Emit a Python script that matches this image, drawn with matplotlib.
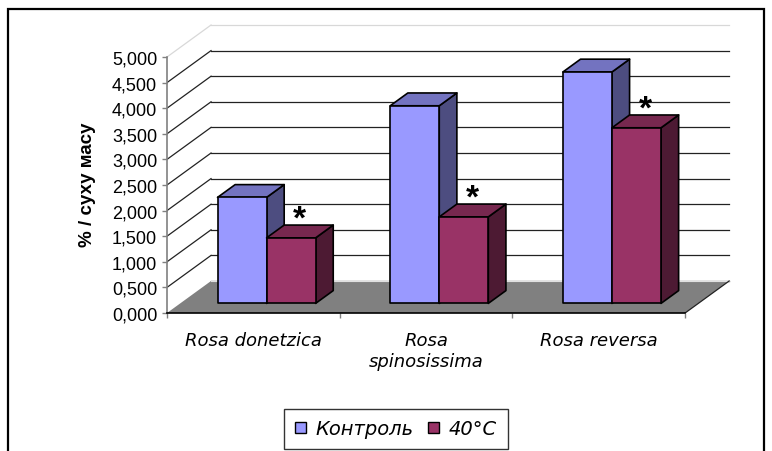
import matplotlib
matplotlib.use("Agg")
import matplotlib.pyplot as plt
from matplotlib.patches import Polygon, Patch, Rectangle

# chart data
species = ["Rosa donetzica", "Rosa\nspinosissima", "Rosa reversa"]
series_names = ["Контроль", "40°C"]
control = [2.07, 3.86, 4.52]
heat = [1.28, 1.69, 3.43]
significant = [True, True, True]
y_ticks = [0, 0.5, 1.0, 1.5, 2.0, 2.5, 3.0, 3.5, 4.0, 4.5, 5.0]

# pseudo-3D geometry (data units: x in categories, y in values)
DX, DY = 0.255, 0.625      # full depth of the plot box
BAR_W = 0.284
BAR_Z0, BAR_Z1 = 0.3, 0.7  # bar depth range as a fraction of full depth
YMAX = 5.0

front_colors = ["#9999FF", "#993366"]
top_colors = ["#7373C0", "#77284F"]
side_colors = ["#4D4D80", "#4D1A33"]

plt.rcParams['font.family'] = ['Liberation Sans', 'DejaVu Sans']
wide_italic = {"family": ["DejaVu Sans"], "style": "italic"}

W, H = 772, 452
fig = plt.figure(figsize=(W / 100, H / 100), dpi=100)
x0_px, y0_px = 167, 314
cat_px, val_px = 172.7, 51.2
xlim = (0, 3.35)
ylim = (0, 5.8)
ax = fig.add_axes([x0_px / W, (H - y0_px) / H,
                   cat_px * xlim[1] / W, val_px * ylim[1] / H])
ax.set_xlim(*xlim)
ax.set_ylim(*ylim)
ax.patch.set_alpha(0)

n = len(species)

# back wall gridlines and side wall diagonals
for v in y_ticks:
    col = "#d8d8d8" if v == YMAX else "#222222"
    ax.plot([DX, n + DX], [v + DY, v + DY], color=col, lw=0.9, zorder=1)
    if v > 0:
        ax.plot([0, DX], [v, v + DY], color=col, lw=0.9, zorder=1)

# floor
floor = Polygon([(0, 0), (n, 0), (n + DX, DY), (DX, DY)], closed=True,
                facecolor="#808080", edgecolor="none", zorder=2)
ax.add_patch(floor)
ax.plot([DX, n + DX], [DY, DY], color="#e0e0e0", lw=0.8, zorder=2)
ax.plot([n, n + DX], [0, DY], color="#222222", lw=0.9, zorder=2)


def draw_bar(x, value, k, z):
    ox, oy = BAR_Z0 * DX, BAR_Z0 * DY
    bx, by = (BAR_Z1 - BAR_Z0) * DX, (BAR_Z1 - BAR_Z0) * DY
    xl, xr = x + ox, x + ox + BAR_W
    yb, yt = oy, oy + value
    kw = dict(closed=True, edgecolor="black", lw=1.2, joinstyle="round", zorder=z)
    ax.add_patch(Polygon([(xr, yb), (xr + bx, yb + by), (xr + bx, yt + by), (xr, yt)],
                         facecolor=side_colors[k], **kw))
    ax.add_patch(Polygon([(xl, yt), (xr, yt), (xr + bx, yt + by), (xl + bx, yt + by)],
                         facecolor=top_colors[k], **kw))
    ax.add_patch(Polygon([(xl, yb), (xr, yb), (xr, yt), (xl, yt)],
                         facecolor=front_colors[k], **kw))
    return xl, xr, yt, bx, by


for i in range(n):
    center = i + 0.5
    draw_bar(center - BAR_W, control[i], 0, 3 + i * 2)
    xl, xr, yt, bx, by = draw_bar(center, heat[i], 1, 4 + i * 2)
    if significant[i]:
        ax.text((xl + xr) / 2 + bx * 0.5, yt + by - 0.05, "*", ha="center",
                va="baseline", fontsize=24, fontweight="bold", color="black",
                zorder=10)

# axes styling
for side in ("top", "right"):
    ax.spines[side].set_visible(False)
ax.spines["left"].set_bounds(0, YMAX)
ax.spines["left"].set_color("#808080")
ax.spines["left"].set_linewidth(1.2)
ax.spines["bottom"].set_bounds(0, n)
ax.spines["bottom"].set_color("black")
ax.spines["bottom"].set_linewidth(1.2)
ax.spines["bottom"].set_zorder(2.5)

ax.set_yticks(y_ticks)
ax.set_yticklabels([f"{v:.3f}".replace(".", ",") for v in y_ticks], fontsize=13)
ax.tick_params(axis="y", length=3.6, width=1, color="#808080", pad=3.5)

ax.set_xticks(range(n + 1))
ax.set_xticklabels([])
ax.set_xticks([i + 0.5 for i in range(n)], minor=True)
ax.set_xticklabels(species, minor=True, fontsize=13, **wide_italic)
ax.tick_params(axis="x", which="major", length=3.6, width=1, color="#808080")
ax.tick_params(axis="x", which="minor", length=0, pad=13)

ax.set_ylabel("% / суху масу", fontsize=13.5, fontweight="bold")
ax.yaxis.set_label_coords((96 - x0_px) / (cat_px * xlim[1]), (314 - 185) / (val_px * ylim[1]))

handles = [Patch(facecolor=c, edgecolor="black", lw=1) for c in front_colors]
leg = fig.legend(handles, series_names, loc="center", ncol=2,
                 bbox_to_anchor=(396 / W, 1 - 430 / H),
                 prop={"family": ["DejaVu Sans"], "style": "italic", "size": 14},
                 handlelength=0.55, handleheight=0.55, handletextpad=0.5,
                 columnspacing=0.75, fancybox=False, borderpad=0.55)
leg.get_frame().set_edgecolor("black")
leg.get_frame().set_linewidth(1.0)

# outer chart frame
fig.add_artist(Rectangle((8 / W, -0.1), (764 - 8) / W, 1.1 - 10 / H,
                         transform=fig.transFigure, fill=False,
                         edgecolor="black", lw=1.6))

fig.savefig("out.png", dpi=100)
